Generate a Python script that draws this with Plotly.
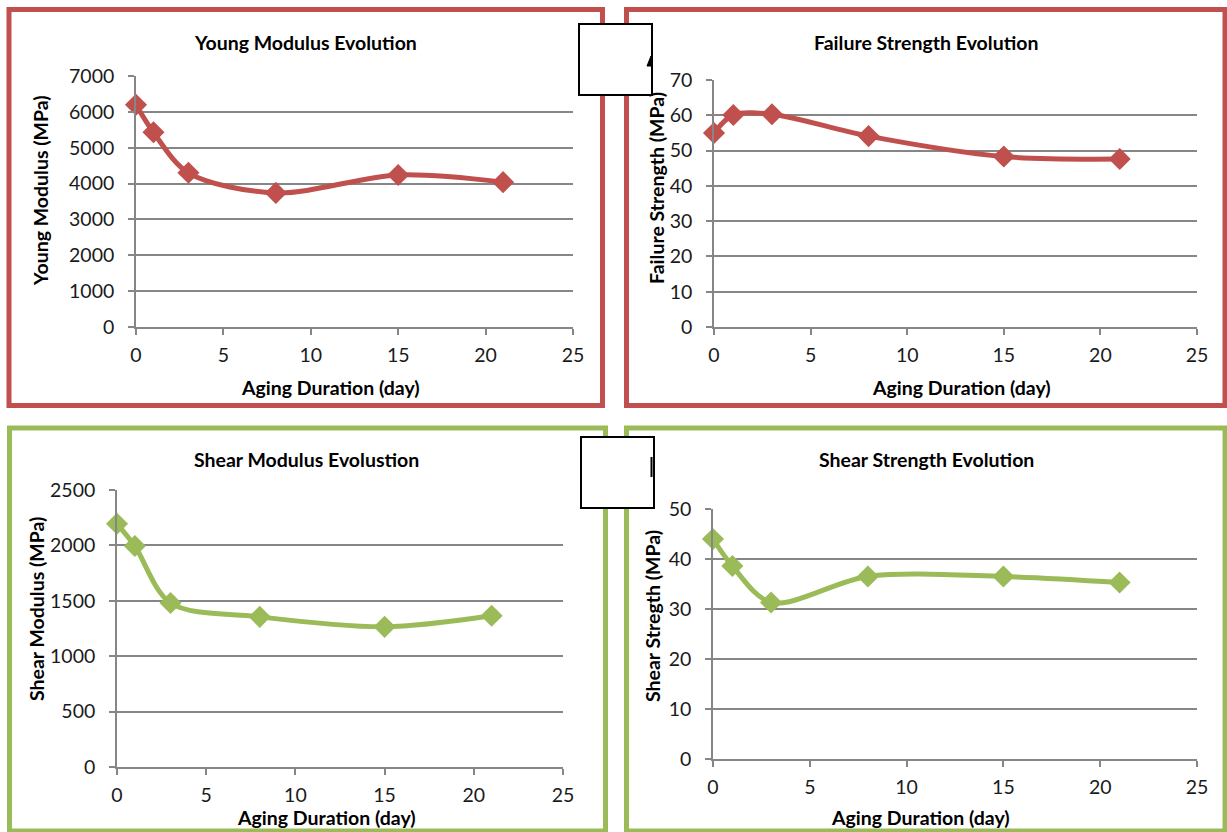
import plotly.graph_objects as go

W, H = 1227, 832

days = [0, 1, 3, 8, 15, 21]
young_modulus = [6200, 5430, 4300, 3740, 4240, 4040]
failure_strength = [55.0, 60.1, 60.3, 54.1, 48.3, 47.6]
shear_modulus = [2195, 1995, 1480, 1355, 1265, 1365]
shear_strength = [44.0, 38.6, 31.3, 36.5, 36.5, 35.3]

titles = ["Young Modulus Evolution", "Failure Strength Evolution",
          "Shear Modulus Evolustion", "Shear Strength Evolution"]
y_titles = ["Young Modulus (MPa)", "Failure Strength (MPa)",
            "Shear Modulus (MPa)", "Shear Stregth (MPa)"]
x_title = "Aging Duration (day)"
x_ticks = [0, 5, 10, 15, 20, 25]
y_ticks = [[0, 1000, 2000, 3000, 4000, 5000, 6000, 7000],
           [0, 10, 20, 30, 40, 50, 60, 70],
           [0, 500, 1000, 1500, 2000, 2500],
           [0, 10, 20, 30, 40, 50]]
series = [young_modulus, failure_strength, shear_modulus, shear_strength]

RED = "#C0504D"
GREEN = "#9BBB59"
colors = [RED, RED, GREEN, GREEN]

# layout geometry (pixels)
plot_boxes = [(136, 573, 76, 327), (714, 1197, 80, 327),
              (117, 563, 490, 767), (713, 1197, 509, 759)]
title_pos = [(305, 43), (926, 42), (306, 459), (926, 459)]
xtitle_pos = [(330, 387), (962, 387), (326, 817), (920, 817)]
ytitle_pos = [(40, 191), (657, 188), (36, 609), (652, 616)]
frames = [(9, 602.5, 9.5, 405.5, RED), (626.5, 1225, 9.5, 405.5, RED),
          (9.5, 605.5, 428, 831, GREEN), (626.5, 1225, 428, 831, GREEN)]

FONT = "Lato, Carlito, Calibri, sans-serif"
TXT = 19.5
TICK = 19.5


def px(x):
    return x / W


def py(y):
    return 1 - y / H


fig = go.Figure()
annotations = []
shapes = []

for fx0, fx1, fy0, fy1, c in frames:
    shapes.append(dict(type="rect", xref="paper", yref="paper",
                       x0=px(fx0), x1=px(fx1), y0=py(fy0), y1=py(fy1),
                       line=dict(color=c, width=5), fillcolor="rgba(0,0,0,0)",
                       layer="below"))

for i in range(4):
    n = i + 1
    xa = "x" if n == 1 else f"x{n}"
    ya = "y" if n == 1 else f"y{n}"
    fig.add_trace(go.Scatter(
        x=days, y=series[i], mode="lines+markers", xaxis=xa, yaxis=ya,
        line=dict(color=colors[i], width=5, shape="spline", smoothing=0.9),
        marker=dict(symbol="diamond", size=17, color=colors[i]),
        showlegend=False, cliponaxis=False))
    x0, x1, y0, y1 = plot_boxes[i]
    yt = y_ticks[i]
    axx = dict(domain=[px(x0), px(x1)], range=[0, 25], tickvals=x_ticks,
               showgrid=False, zeroline=False, showline=True,
               linecolor="#868686", linewidth=1.6, ticks="outside",
               ticklen=6, tickwidth=1.6, tickcolor="#868686",
               ticklabelstandoff=4, automargin=False,
               tickfont=dict(family=FONT, size=TICK, color="#1a1a1a"),
               anchor=ya, fixedrange=True)
    axy = dict(domain=[py(y1), py(y0)], range=[0, yt[-1]], tickvals=yt,
               showgrid=True, gridcolor="#868686", gridwidth=1.6,
               zeroline=False, showline=True, linecolor="#868686",
               linewidth=1.6, ticks="outside", ticklen=6, tickwidth=1.6,
               tickcolor="#868686", ticklabelstandoff=10, automargin=False,
               tickfont=dict(family=FONT, size=TICK, color="#1a1a1a"),
               anchor=xa, fixedrange=True)
    fig.update_layout(**{("xaxis" if n == 1 else f"xaxis{n}"): axx,
                         ("yaxis" if n == 1 else f"yaxis{n}"): axy})
    tx, ty = title_pos[i]
    annotations.append(dict(text=f"<b>{titles[i]}</b>", x=px(tx), y=py(ty),
                            xref="paper", yref="paper", showarrow=False,
                            xanchor="center", yanchor="middle",
                            font=dict(family=FONT, size=TXT, color="#000")))
    tx, ty = xtitle_pos[i]
    annotations.append(dict(text=f"<b>{x_title}</b>", x=px(tx), y=py(ty),
                            xref="paper", yref="paper", showarrow=False,
                            xanchor="center", yanchor="middle",
                            font=dict(family=FONT, size=TXT, color="#000")))
    tx, ty = ytitle_pos[i]
    annotations.append(dict(text=f"<b>{y_titles[i]}</b>", x=px(tx), y=py(ty),
                            xref="paper", yref="paper", showarrow=False,
                            textangle=-90, xanchor="center", yanchor="middle",
                            font=dict(family=FONT, size=TXT, color="#000")))

# white boxes overlapping the panels
for bx0, bx1, by0, by1 in [(579, 652, 24, 95), (581, 654, 437, 508)]:
    shapes.append(dict(type="rect", xref="paper", yref="paper",
                       x0=px(bx0), x1=px(bx1), y0=py(by0), y1=py(by1),
                       line=dict(color="#000", width=2), fillcolor="#fff",
                       layer="above"))
shapes.append(dict(type="line", xref="paper", yref="paper",
                   x0=px(651.5), x1=px(651.5), y0=py(457), y1=py(477),
                   line=dict(color="#000", width=2), layer="above"))
shapes.append(dict(type="path", xref="paper", yref="paper", layer="above",
                   path=f"M {px(647)},{py(66)} L {px(651)},{py(56)} L {px(651)},{py(66)} Z",
                   fillcolor="#000", line=dict(color="#000", width=1)))

fig.update_layout(template="none", width=W, height=H, autosize=False,
                  margin=dict(l=0, r=0, t=0, b=0, pad=0, autoexpand=False),
                  paper_bgcolor="#fff", plot_bgcolor="#fff", showlegend=False,
                  annotations=annotations, shapes=shapes)

fig.write_html("out.html", config={"displayModeBar": False},
               post_script="document.body.style.margin='0';"
                           "document.body.style.overflow='hidden';")
